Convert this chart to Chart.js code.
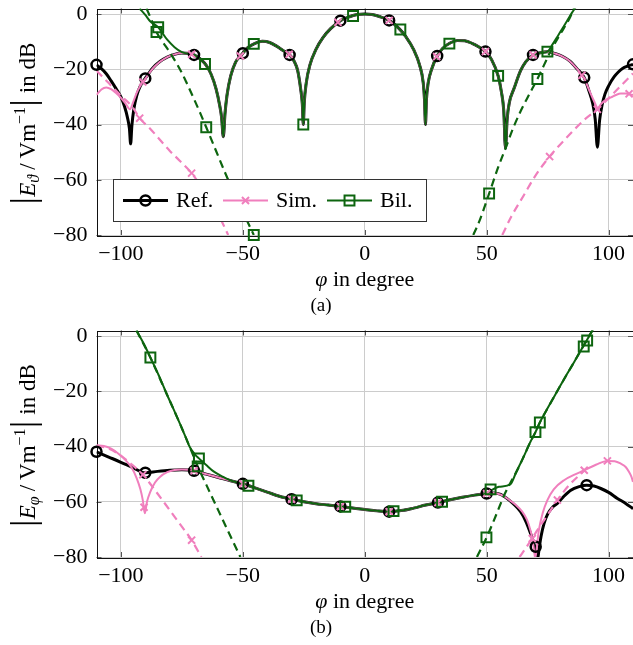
<!DOCTYPE html>
<html><head><meta charset="utf-8">
<script src="https://cdn.jsdelivr.net/npm/chart.js@4.4.1/dist/chart.umd.min.js"></script>
<style>
html,body{margin:0;padding:0;background:#fff;}
#wrap{position:relative;width:633px;height:645px;overflow:hidden;background:#fff;}
canvas{position:absolute;left:0;}
</style></head><body>
<div id="wrap">
<canvas id="ca" width="633" height="322" style="top:0px"></canvas>
<canvas id="cb" width="633" height="323" style="top:322px"></canvas>
</div>
<script>
// ---------- tick labels ----------
const xTicks = [-100, -50, 0, 50, 100];
const yTicks = [-80, -60, -40, -20, 0];
const legendLabels = ['Ref.', 'Sim.', 'Bil.'];

// ---------- (a) |E_theta| ----------
const aMidX = [-70,-67,-65,-63,-61,-59.5,-58.7,-58,-57.3,-56.5,-55,-53,-51,-50,-48,-45,-42,-39,-36,-33,-31,-29,-27.5,-26.3,-25.6,-25.2,-24.8,-24,-22.5,-20,-17,-14,-10,-6,-3,0,3,6,10,14,17,20,22.5,24,24.5,24.9,25.3,26,27.5,29.7,32,35,38,41,44,47,49.5,52,54.7,56,57,57.7,58.4,59.3,61.2,63.9,66,69];
const aMidY = [-14.8,-16.6,-18.6,-21.8,-27,-33,-37.5,-44.4,-36,-29.5,-22.5,-17.5,-15.2,-14.2,-12.2,-10.6,-9.9,-10.3,-11.7,-13.5,-14.6,-17,-20.5,-27,-32.5,-40,-32,-25,-18.5,-12.8,-8.4,-5.3,-2.4,-0.9,-0.2,0,-0.2,-0.9,-2.3,-5.2,-8.4,-12.8,-18.5,-25,-31,-40,-31,-25,-19.8,-15.2,-12.4,-10.5,-9.6,-9.7,-10.6,-12,-13.6,-16.5,-22.4,-28,-35,-48.6,-38,-32,-27,-20.5,-17.3,-14.8];

const aRefLeftX = [-110,-108,-106,-104,-102,-100,-98.5,-97.3,-96.5,-96,-95.5,-94.7,-93.5,-92,-90,-87,-84,-81,-78,-75,-72];
const aRefLeftY = [-18.4,-19.8,-21.6,-24.2,-27,-30,-33.5,-37.5,-41.5,-47,-40.5,-34.5,-29.5,-26,-23.3,-19.6,-17.2,-15.6,-14.6,-14.1,-14.3];
const aRefRightX = [72,75,78,81,84,87,90,92,93.5,94.5,95.4,96.3,97.3,98.5,100,102.3,104,105.7,108,110];
const aRefRightY = [-14,-13.7,-14.3,-15.3,-17,-19.8,-23,-28,-32.5,-38,-48.2,-38.5,-33,-29,-26,-22.7,-21,-19.7,-18.8,-18.2];

const aSimLeftX = [-110,-108,-106,-104,-102,-100,-98,-96.3,-95,-93.5,-92,-90,-87,-84,-81,-78,-75,-72];
const aSimLeftY = [-29.3,-27.3,-26.6,-27.2,-28.6,-30.3,-32.5,-34.5,-32,-28.5,-26,-23.5,-19.8,-17.3,-15.6,-14.6,-14.1,-14.3];
const aSimRightX = [72,75,78,81,84,87,90,92,94,95.6,97,99,101,103,105,107,109,110];
const aSimRightY = [-14,-13.7,-14.3,-15.3,-17,-19.8,-23.3,-27.5,-31.5,-34,-32.5,-31,-30.2,-29.3,-28.8,-28.8,-29.1,-29.3];

const aBilLeftX = [-92.3,-90,-88,-84.7,-81,-78,-75,-72];
const aBilLeftY = [2,-0.3,-2.6,-4.8,-9.3,-12,-13.8,-14.4];
const aBilRightX = [72,74.9,77,79,81,83,85,86.5];
const aBilRightY = [-14,-13.6,-11,-8.2,-5.3,-2.4,0.5,2.5];

const aSimDashLX = [-110,-105,-100,-95,-92.3,-88,-84,-80,-76,-71,-67,-63,-59.5,-56];
const aSimDashLY = [-20.5,-25,-29.5,-34,-37.7,-41.5,-45.5,-49.5,-53,-57.6,-62.5,-68,-73.5,-80];
const aSimDashRX = [56.4,60,65.3,70,75.8,82,90,95.4,100,105,110];
const aSimDashRY = [-80,-73.5,-65.5,-58.5,-51.6,-45.5,-38.3,-34.5,-30.5,-26,-21.5];

const aBilDashLX = [-89.5,-87.5,-85.4,-83.4,-80,-77.2,-75,-73,-70,-67.5,-65,-61,-57,-53,-49,-45.5];
const aBilDashLY = [2,-2,-6.5,-9.4,-13.8,-17.8,-21.3,-25,-30.8,-35.8,-41,-49.5,-58,-66,-73.5,-80];
const aBilDashRX = [44.5,47,51,54.5,58,61,64,67.5,70.8,73.5,76.2,79,81.7,84,85.8];
const aBilDashRY = [-80,-75,-65,-56,-48,-41,-35,-29,-23.5,-18.5,-13.5,-9,-5,-1.5,2];

const aRefMarkX = [-110,-90,-70,-50,-30.8,-10,10,29.7,49.5,69,90,110];
const aRefMarkY = [-18.4,-23.3,-14.8,-14.2,-14.8,-2.4,-2.3,-15.2,-13.6,-14.8,-23,-18.2];
const aSimMarkX = [-91,-71,-51,-31,-11,10,29.5,49.5,69,89,108.4];
const aSimMarkY = [-24.6,-14.6,-15.2,-14.6,-3,-2.3,-15.4,-13.6,-14.8,-22.2,-28.9];
const aSimDashMarkX = [-92.3,-71,75.8,95.4];
const aSimDashMarkY = [-37.7,-57.6,-51.6,-34.5];
const aBilMarkX = [-84.7,-65.5,-45.5,-25.2,-4.8,14.6,34.7,54.7,74.9];
const aBilMarkY = [-4.8,-18.1,-10.8,-40,-0.7,-5.6,-10.7,-22.4,-13.6];
const aBilDashMarkX = [-85.4,-65,-45.5,51,70.8];
const aBilDashMarkY = [-6.5,-41,-80,-65,-23.5];

// ---------- (b) |E_phi| ----------
const bMidX = [-50,-45,-40,-35,-30,-25,-20,-15,-10,-5,0,5,10,15,20,25,30,35,40,45,50];
const bMidY = [-53.5,-55,-56.5,-58,-59.1,-60,-60.7,-61.2,-61.7,-62.3,-62.8,-63.3,-63.6,-63.2,-62.3,-61.2,-60.3,-59.3,-58.4,-57.6,-57];

const bRefLeftX = [-110,-105,-100,-95,-90,-85,-80,-75,-70,-65,-60,-55];
const bRefLeftY = [-41.9,-43.8,-45.7,-47.7,-49.5,-49,-48.6,-48.4,-48.8,-50,-51.2,-52.4];
const bRefRightX = [53,55.7,58,61,63.9,66,68,69.5,70.3,70.8,71.5,72.3,73.5,75,77,79,81.5,84.5,88,91,94,96.8,100,103.6,107,110];
const bRefRightY = [-56.8,-57.3,-58.6,-60.8,-63.6,-67,-71.5,-75.5,-79,-81,-77,-72.5,-67.9,-64.5,-62,-60.6,-58.2,-55.8,-54.5,-54,-54.3,-55.2,-56.6,-58.8,-60.6,-62.5];

const bSimLeftX = [-110,-107,-104,-101,-98,-95.5,-93.5,-92,-91,-90.2,-89.3,-88,-86,-84,-81,-78,-75,-70,-65,-60,-55];
const bSimLeftY = [-39.6,-39.8,-40.8,-42.6,-45,-47.8,-51.5,-55.5,-59.5,-64.2,-60,-56.5,-53,-51,-49.3,-48.5,-48.3,-48.8,-50,-51.2,-52.4];
const bSimRightX = [53,56,59,62,64.5,66.5,68,68.7,69.5,69.9,70.5,71.4,73,74.9,77.5,81.7,86,90,95,99.5,102.5,105,107,108.4,109.3,110];
const bSimRightY = [-56.8,-57.5,-59.2,-61.2,-63.5,-66.5,-70.5,-73.3,-78,-80.5,-77,-70.3,-64,-59.4,-55.5,-52.2,-50.2,-48.6,-46.5,-45.2,-45.3,-46.2,-47.4,-49.2,-50.8,-52.8];

const bBilLeftX = [-93.6,-90.5,-87.9,-84.5,-81.3,-78.5,-75.8,-73.5,-71.7,-69.5,-68,-65,-62,-58,-55];
const bBilLeftY = [2,-3,-7.8,-14.2,-20.8,-26.3,-31.7,-36.5,-40.3,-43,-44.3,-46.7,-49,-51,-52.3];
const bBilRightX = [52,55,59.8,62,65,68,70,71.8,74,77,80,83,86,89,91,93,94];
const bBilRightY = [-55.8,-54.6,-53.6,-49.5,-44,-38.2,-34.8,-31.3,-27.7,-23,-18.3,-13.7,-9.2,-4.6,-1.6,1.5,3];

const bSimDashLX = [-110,-105,-100,-96,-93.6,-91,-85,-80,-75,-71,-67];
const bSimDashLY = [-39.6,-40.8,-43.3,-46.2,-48,-50.2,-57,-63,-69,-73.9,-80];
const bSimDashRX = [63.5,66,68.7,71,75,79,84,90];
const bSimDashRY = [-80,-76.8,-73.2,-70,-64.7,-59.4,-53.8,-48.8];

const bBilDashLX = [-93.6,-87.9,-81.3,-75.8,-71.7,-68.5,-65,-60,-55,-51];
const bBilDashLY = [2,-7.8,-20.8,-31.7,-40.3,-47.2,-53.8,-63.2,-72.6,-80];
const bBilDashRX = [46,50,54,57,59.8,62,65,68,70,71.8,74,77,80,83,86,89,91,93,94];
const bBilDashRY = [-80,-72.9,-64.5,-58,-53,-49.5,-44,-38.2,-34.8,-31.3,-27.7,-23,-18.3,-13.7,-9.2,-4.6,-1.6,1.5,3];

const bRefMarkX = [-110,-90,-70,-50,-30,-10,10,30,50,70.1,91];
const bRefMarkY = [-41.9,-49.5,-48.8,-53.5,-59.1,-61.7,-63.6,-60.3,-57,-76.3,-54];
const bSimMarkX = [-90.5,-70,-50,-30,-10,10,30,50,68.7,90,99.5];
const bSimMarkY = [-62,-48.8,-53.5,-59.1,-61.7,-63.6,-60.3,-57,-73.3,-48.6,-45.2];
const bSimDashMarkX = [-91,-71,79];
const bSimDashMarkY = [-50.2,-73.9,-59.4];
const bBilMarkX = [-87.9,-68,-47.7,-27.9,-8,11.8,31.7,51.6,71.8,91.2];
const bBilMarkY = [-7.8,-44.3,-54.2,-59.5,-61.8,-63.4,-60,-55.5,-31.3,-1.6];
const bBilDashMarkX = [-68.5,49.9,70,89.8];
const bBilDashMarkY = [-47.2,-72.9,-34.8,-3.8];

// ---------- styling ----------
const FONT = '"Liberation Serif", "DejaVu Serif", serif';
const C_REF = '#000000', C_SIM = '#f07fbd', C_BIL = '#0d650f';
const FS = 22;
Chart.defaults.font.family = FONT;

function pts(xs, ys) { return xs.map((x, i) => ({ x: x, y: ys[i] })); }
function lineDS(xs, ys, color, width, dash, order) {
  return { data: pts(xs, ys), borderColor: color, backgroundColor: color, borderWidth: width,
    borderDash: dash || [], pointRadius: 0, pointHoverRadius: 0, fill: false,
    cubicInterpolationMode: 'monotone', order: order, borderCapStyle: 'butt', borderJoinStyle: 'round' };
}
function markDS(xs, ys, color, style, radius, bw, order) {
  return { data: pts(xs, ys), showLine: false, pointStyle: style, pointRadius: radius, pointHoverRadius: radius,
    pointBorderColor: color, pointBackgroundColor: 'rgba(0,0,0,0)', pointBorderWidth: bw,
    borderColor: color, backgroundColor: 'rgba(0,0,0,0)', clip: false, order: order };
}
const fmt = v => (v < 0 ? '\u2212' + Math.abs(v) : '' + v);

function drawYTitle(ctx, cx, cy, sub) {
  const F = 23;
  const big = F + 'px ' + FONT, bigI = 'italic ' + F + 'px ' + FONT;
  const sm = '16px ' + FONT, smI = 'italic 16px ' + FONT;
  const parts = [
    { bar: true, w: 8 },
    { t: 'E', f: bigI, dy: 0 },
    { t: sub, f: smI, dy: 4 },
    { gap: 5 },
    { t: '/', f: big, dy: 0 },
    { gap: 5 },
    { t: 'Vm', f: big, dy: 0 },
    { t: '\u22121', f: sm, dy: -10 },
    { bar: true, w: 8 },
    { t: ' in dB', f: big, dy: 0 }
  ];
  let total = 0;
  parts.forEach(p => {
    if (p.gap) p.w = p.gap;
    else if (!p.bar) { ctx.font = p.f; p.w = ctx.measureText(p.t).width; }
    total += p.w;
  });
  ctx.save();
  ctx.translate(cx, cy);
  ctx.rotate(-Math.PI / 2);
  ctx.fillStyle = '#000'; ctx.strokeStyle = '#000';
  ctx.textBaseline = 'alphabetic'; ctx.textAlign = 'left';
  let x = -total / 2;
  parts.forEach(p => {
    if (p.bar) {
      ctx.lineWidth = 1.8;
      ctx.beginPath(); ctx.moveTo(x + p.w / 2, -25); ctx.lineTo(x + p.w / 2, 7); ctx.stroke();
    } else if (!p.gap) {
      ctx.font = p.f; ctx.fillText(p.t, x, p.dy);
    }
    x += p.w;
  });
  ctx.restore();
}

function drawXTitle(ctx, cx, cy) {
  const a = { t: '\u03C6', f: 'italic ' + FS + 'px ' + FONT };
  const b = { t: ' in degree', f: FS + 'px ' + FONT };
  ctx.save();
  ctx.fillStyle = '#000'; ctx.textBaseline = 'middle'; ctx.textAlign = 'left';
  ctx.font = a.f; const wa = ctx.measureText(a.t).width;
  ctx.font = b.f; const wb = ctx.measureText(b.t).width;
  let x = cx - (wa + wb) / 2;
  ctx.font = a.f; ctx.fillText(a.t, x, cy);
  ctx.font = b.f; ctx.fillText(b.t, x + wa, cy);
  ctx.restore();
}

function drawLegend(ctx) {
  ctx.save();
  ctx.fillStyle = '#fff'; ctx.fillRect(113, 179, 313, 42);
  ctx.strokeStyle = '#333'; ctx.lineWidth = 1; ctx.strokeRect(113.5, 179.5, 313, 42);
  const y = 200.5;
  const ents = [
    { x0: 123, tx: 176, c: C_REF, w: 3, st: 'circle', r: 5, bw: 2.5 },
    { x0: 223, tx: 276, c: C_SIM, w: 2, st: 'crossRot', r: 5, bw: 2 },
    { x0: 327, tx: 380, c: C_BIL, w: 2, st: 'rect', r: 7, bw: 2 }
  ];
  ents.forEach((e, i) => {
    ctx.strokeStyle = e.c; ctx.lineWidth = e.w;
    ctx.beginPath(); ctx.moveTo(e.x0, y); ctx.lineTo(e.x0 + 45, y); ctx.stroke();
    ctx.fillStyle = 'rgba(0,0,0,0)'; ctx.strokeStyle = e.c; ctx.lineWidth = e.bw;
    Chart.helpers.drawPoint(ctx, { pointStyle: e.st, radius: e.r, borderWidth: e.bw, rotation: 0 }, e.x0 + 22.5, y);
    ctx.fillStyle = '#000'; ctx.font = FS + 'px ' + FONT; ctx.textBaseline = 'middle'; ctx.textAlign = 'left';
    ctx.fillText(legendLabels[i], e.tx, y + 1);
  });
  ctx.restore();
}

function framePlugin(cfg) {
  return {
    id: 'frame' + cfg.cap,
    beforeDatasetsDraw(chart) {
      const ctx = chart.ctx, a = chart.chartArea, xs = chart.scales.x, ys = chart.scales.y;
      ctx.save();
      ctx.strokeStyle = '#555'; ctx.lineWidth = 1;
      ctx.beginPath();
      xTicks.forEach(v => {
        const p = Math.round(xs.getPixelForValue(v)) + 0.5;
        ctx.moveTo(p, a.bottom); ctx.lineTo(p, a.bottom - 5);
        ctx.moveTo(p, a.top); ctx.lineTo(p, a.top + 5);
      });
      yTicks.forEach(v => {
        const p = Math.round(ys.getPixelForValue(v)) + 0.5;
        ctx.moveTo(a.left, p); ctx.lineTo(a.left + 5, p);
        ctx.moveTo(a.right, p); ctx.lineTo(a.right - 5, p);
      });
      ctx.stroke();
      ctx.strokeStyle = '#111';
      ctx.strokeRect(Math.round(a.left) + 0.5, Math.round(a.top) + 0.5, Math.round(a.right - a.left) - 1, Math.round(a.bottom - a.top));
      ctx.restore();
    },
    afterDatasetsDraw(chart) {
      if (cfg.legend) drawLegend(chart.ctx);
    },
    afterDraw(chart) {
      const ctx = chart.ctx, a = chart.chartArea;
      drawYTitle(ctx, 35, (a.top + a.bottom) / 2 + 2, cfg.sub);
      drawXTitle(ctx, (a.left + a.right) / 2, 280);
      ctx.save();
      ctx.fillStyle = '#000'; ctx.font = '19px ' + FONT; ctx.textAlign = 'center'; ctx.textBaseline = 'middle';
      ctx.fillText(cfg.cap, 321, 306);
      ctx.restore();
    }
  };
}

function zeroPad(s) { s.paddingLeft = 0; s.paddingRight = 0; s.paddingTop = 0; s.paddingBottom = 0; }

const AREA = { left: 96.5, right: 632, top: 8.5, bottom: 235 };

function makeChart(id, datasets, cfg) {
  const pad = { top: AREA.top, right: -6.5, left: 0, bottom: 0 };
  const chart = new Chart(document.getElementById(id), {
    type: 'line',
    data: { datasets: datasets },
    options: {
      responsive: false, animation: false, devicePixelRatio: 1, events: [],
      layout: { autoPadding: false, padding: pad },
      plugins: { legend: { display: false }, tooltip: { enabled: false } },
      scales: {
        x: {
          type: 'linear', min: -110, max: 110,
          afterFit: s => { s.height = 80; zeroPad(s); },
          afterBuildTicks: s => { s.ticks = xTicks.map(v => ({ value: v })); },
          grid: { color: '#cccccc', lineWidth: 1, drawTicks: false },
          border: { display: false },
          ticks: { padding: 6, font: { family: FONT, size: FS }, color: '#000', callback: fmt, maxRotation: 0, autoSkip: false }
        },
        y: {
          type: 'linear', min: -80, max: 2,
          afterFit: s => { s.width = 90; zeroPad(s); },
          afterBuildTicks: s => { s.ticks = yTicks.map(v => ({ value: v })); },
          grid: { color: '#cccccc', lineWidth: 1, drawTicks: false },
          border: { display: false },
          ticks: { padding: 9, font: { family: FONT, size: FS }, color: '#000', callback: fmt, autoSkip: false }
        }
      }
    },
    plugins: [framePlugin(cfg)]
  });
  // pin the plot area to the reference position
  for (let k = 0; k < 4; k++) {
    const a = chart.chartArea;
    const d = { l: AREA.left - a.left, r: a.right - AREA.right, t: AREA.top - a.top, b: a.bottom - AREA.bottom };
    if (Math.abs(d.l) + Math.abs(d.r) + Math.abs(d.t) + Math.abs(d.b) < 0.05) break;
    pad.left += d.l; pad.right += d.r; pad.top += d.t; pad.bottom += d.b;
    chart.config.options.layout.padding = { left: pad.left, right: pad.right, top: pad.top, bottom: pad.bottom };
    chart.update('none');
  }
  return chart;
}

const DASH = [8, 5];
makeChart('ca', [
  lineDS(aRefLeftX.concat(aMidX, aRefRightX), aRefLeftY.concat(aMidY, aRefRightY), C_REF, 3, null, 10),
  lineDS(aSimLeftX.concat(aMidX, aSimRightX), aSimLeftY.concat(aMidY, aSimRightY), C_SIM, 2, null, 9),
  lineDS(aBilLeftX.concat(aMidX, aBilRightX), aBilLeftY.concat(aMidY, aBilRightY), C_BIL, 2, null, 8),
  lineDS(aSimDashLX, aSimDashLY, C_SIM, 2.2, DASH, 7),
  lineDS(aSimDashRX, aSimDashRY, C_SIM, 2.2, DASH, 7),
  lineDS(aBilDashLX, aBilDashLY, C_BIL, 2.2, DASH, 6),
  lineDS(aBilDashRX, aBilDashRY, C_BIL, 2.2, DASH, 6),
  markDS(aRefMarkX, aRefMarkY, C_REF, 'circle', 5, 2.5, 5),
  markDS(aSimDashMarkX, aSimDashMarkY, C_SIM, 'crossRot', 5, 2, 4),
  markDS(aSimMarkX, aSimMarkY, C_SIM, 'crossRot', 5, 2, 3),
  markDS(aBilDashMarkX, aBilDashMarkY, C_BIL, 'rect', 7, 2, 2),
  markDS(aBilMarkX, aBilMarkY, C_BIL, 'rect', 7, 2, 1)
], { sub: '\u03D1', cap: '(a)', legend: true });

makeChart('cb', [
  lineDS(bRefLeftX.concat(bMidX, bRefRightX), bRefLeftY.concat(bMidY, bRefRightY), C_REF, 3, null, 10),
  lineDS(bSimLeftX.concat(bMidX, bSimRightX), bSimLeftY.concat(bMidY, bSimRightY), C_SIM, 2, null, 9),
  lineDS(bBilLeftX.concat(bMidX, bBilRightX), bBilLeftY.concat(bMidY, bBilRightY), C_BIL, 2, null, 8),
  lineDS(bSimDashLX, bSimDashLY, C_SIM, 2.2, DASH, 7),
  lineDS(bSimDashRX, bSimDashRY, C_SIM, 2.2, DASH, 7),
  lineDS(bBilDashLX, bBilDashLY, C_BIL, 2.2, DASH, 6),
  lineDS(bBilDashRX, bBilDashRY, C_BIL, 2.2, DASH, 6),
  markDS(bRefMarkX, bRefMarkY, C_REF, 'circle', 5, 2.5, 5),
  markDS(bSimDashMarkX, bSimDashMarkY, C_SIM, 'crossRot', 5, 2, 4),
  markDS(bSimMarkX, bSimMarkY, C_SIM, 'crossRot', 5, 2, 3),
  markDS(bBilDashMarkX, bBilDashMarkY, C_BIL, 'rect', 7, 2, 2),
  markDS(bBilMarkX, bBilMarkY, C_BIL, 'rect', 7, 2, 1)
], { sub: '\u03C6', cap: '(b)', legend: false });
</script>
</body></html>
